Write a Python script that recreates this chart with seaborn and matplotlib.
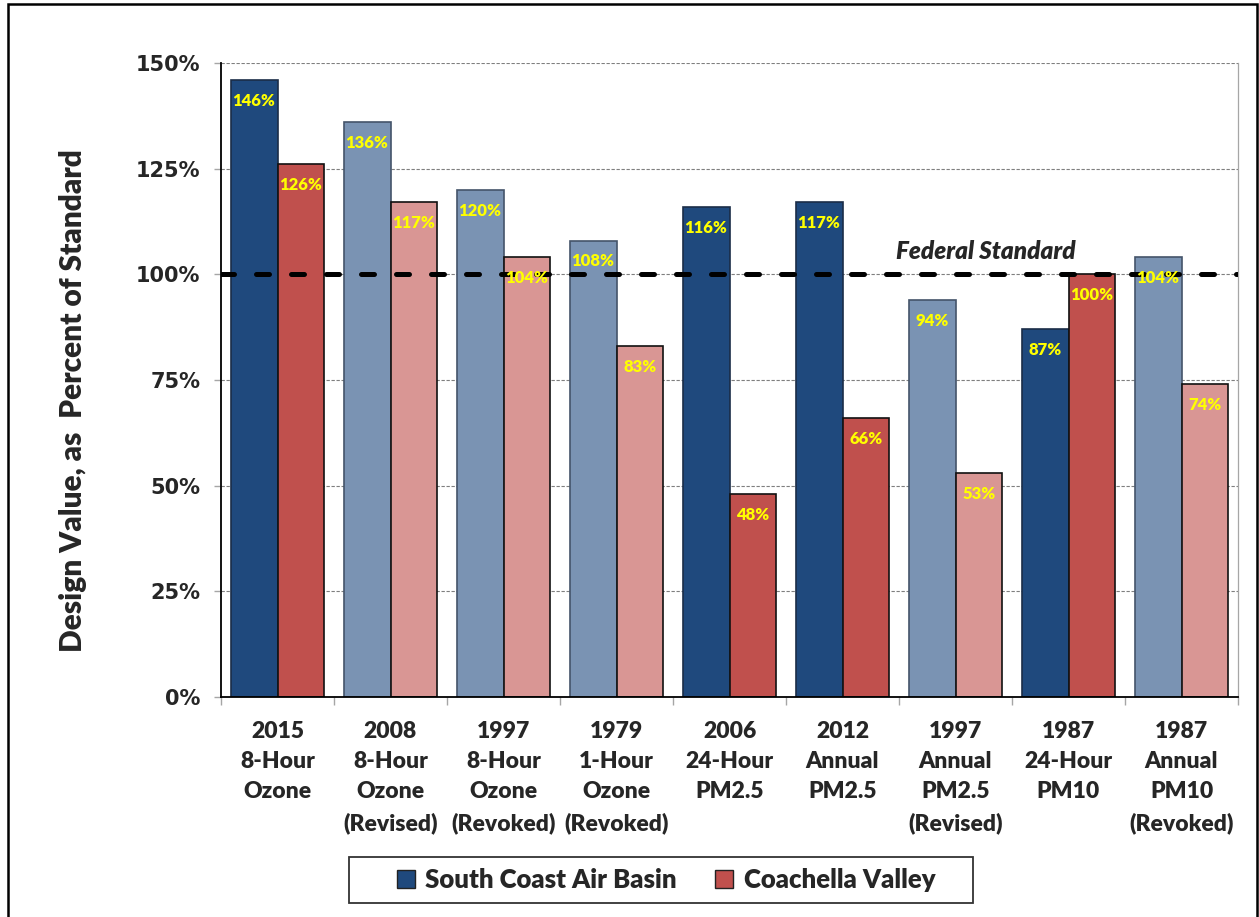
import matplotlib
matplotlib.use("Agg")
import numpy as np
import pandas as pd
import matplotlib.pyplot as plt
import seaborn as sns
from matplotlib.patches import Patch, Rectangle

# standards (x categories)
standards = ["2015\n8-Hour\nOzone", "2008\n8-Hour\nOzone\n(Revised)",
             "1997\n8-Hour\nOzone\n(Revoked)", "1979\n1-Hour\nOzone\n(Revoked)",
             "2006\n24-Hour\nPM2.5", "2012\nAnnual\nPM2.5",
             "1997\nAnnual\nPM2.5\n(Revised)", "1987\n24-Hour\nPM10",
             "1987\nAnnual\nPM10\n(Revoked)"]
south_coast = [146, 136, 120, 108, 116, 117, 94, 87, 104]
coachella = [126, 117, 104, 83, 48, 66, 53, 100, 74]
# True = current standard, False = revised / revoked
current = [True, False, False, False, True, True, False, True, False]
regions = ["South Coast Air Basin", "Coachella Valley"]

BLUE, LBLUE = "#1F497D", "#7A93B3"
RED, LRED = "#C0504D", "#D99694"
W = "heavy"

df = pd.DataFrame({
    "standard": standards * 2,
    "value": south_coast + coachella,
    "region": [regions[0]] * len(standards) + [regions[1]] * len(standards),
})

sns.set_style("white")
plt.rcParams["font.family"] = ["Lato", "DejaVu Sans"]

fig = plt.figure(figsize=(12.59, 9.17), dpi=100)
ax = fig.add_axes([221 / 1259, 1 - 697 / 917, 1017 / 1259, 634 / 917])

sns.barplot(data=df, x="standard", y="value", hue="region", order=standards,
            hue_order=regions, palette=[BLUE, RED], saturation=1, width=0.83,
            legend=False, ax=ax, zorder=2)

# recolour revised/revoked standards in lighter tints, add labels
for ci, cont in enumerate(ax.containers):
    vals = south_coast if ci == 0 else coachella
    for bar, v, cur in zip(cont, vals, current):
        if ci == 0:
            bar.set_facecolor(BLUE if cur else LBLUE)
            bar.set_edgecolor("#1b2d48" if cur else "#44546A")
        else:
            bar.set_facecolor(RED if cur else LRED)
            bar.set_edgecolor("#111111")
        bar.set_linewidth(1.2)
        ax.annotate(f"{v}%", (bar.get_x() + bar.get_width() / 2, v),
                    xytext=(0, -15), textcoords="offset points",
                    ha="center", va="center", color="#FFFF00",
                    fontsize=12, fontweight=W, zorder=6)

# federal standard line
ax.axhline(100, color="black", lw=3.6, ls=(0, (2.6, 4.4)),
           dash_capstyle="round", zorder=5)
ax.text(6.27, 105.3, "Federal Standard", ha="center", va="center",
        fontsize=17.5, fontweight=W, fontstyle="italic")

ax.set_xlim(-0.5, len(standards) - 0.5)
ax.set_ylim(0, 150)
ax.set_yticks(np.arange(0, 151, 25))
ax.set_yticklabels([f"{t}%" for t in range(0, 151, 25)],
                   family="DejaVu Sans", fontweight="bold", fontsize=15)
ax.set_xticks(range(len(standards)))
ax.set_xticklabels(standards, fontsize=16.5, fontweight=W,
                   linespacing=1.55, va="top")
ax.set_xticks(np.arange(-0.5, len(standards)), minor=True)
ax.tick_params(axis="x", which="major", length=0, pad=17)
ax.tick_params(axis="x", which="minor", length=6, width=1, color="#A6A6A6",
               direction="out", bottom=True)
ax.tick_params(axis="y", length=5, width=1, color="#A6A6A6",
               direction="out", left=True, pad=10)

ax.yaxis.grid(True, ls=(0, (3, 1.5)), color="#7F7F7F", lw=0.8)
ax.xaxis.grid(False)
ax.set_axisbelow(True)
for s in ["left", "bottom"]:
    ax.spines[s].set_color("black")
    ax.spines[s].set_linewidth(1.3)
ax.spines["right"].set_color("#A6A6A6")
ax.spines["right"].set_linewidth(0.9)
ax.spines["top"].set_visible(False)

ax.set_xlabel("")
ax.set_ylabel("Design Value, as  Percent of Standard",
              fontweight=W, fontsize=21.5)
ax.yaxis.set_label_coords((87 - 221) / 1017, (697 - 401) / 634)

handles = [Patch(facecolor=BLUE, edgecolor="#222222", lw=1.0),
           Patch(facecolor=RED, edgecolor="#222222", lw=1.0)]
fig.legend(handles, regions, loc="center", bbox_to_anchor=(666 / 1259, 1 - 880 / 917),
           ncol=2, frameon=False, prop={"weight": W, "size": 18.5},
           handlelength=0.7, handleheight=0.7, handletextpad=0.4,
           columnspacing=1.5)
fig.add_artist(Rectangle((349 / 1259, 1 - 903 / 917), 624 / 1259, 46 / 917,
                         transform=fig.transFigure, fill=False,
                         edgecolor="#333333", lw=1.3))

# outer frame
fig.add_artist(Rectangle((8 / 1259, -0.01), 1249 / 1259, (913 / 917) + 0.01,
                         transform=fig.transFigure, fill=False,
                         edgecolor="black", lw=1.8))

fig.savefig("out.png", dpi=100)
